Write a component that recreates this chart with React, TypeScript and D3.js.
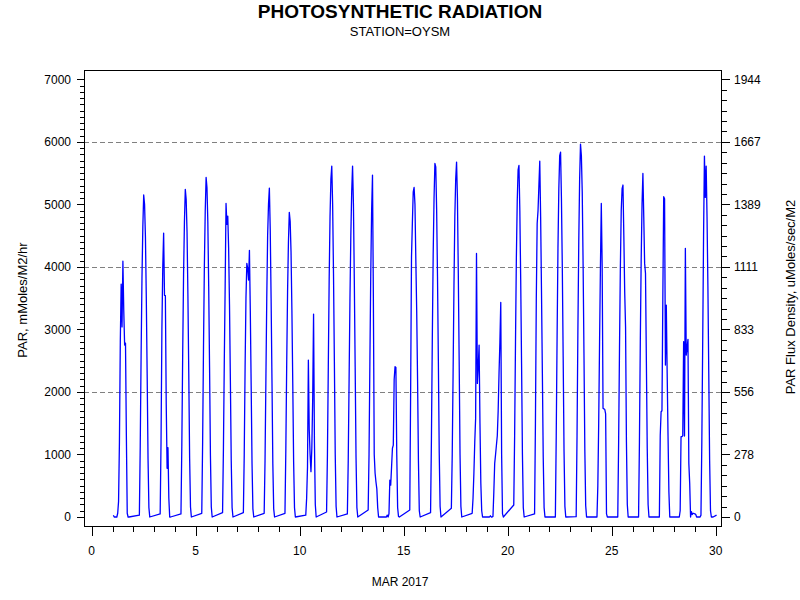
import React from 'react';
import * as d3 from 'd3';

// Hours of the daytime readings (hour of day), one value per hour in each daily array
const HOURS = [7, 8, 9, 10, 11, 12, 13, 14, 15, 16, 17, 18, 19];

// PAR, mMoles/M2/hr — March 2017, hourly daytime readings
const mar01 = [250, 1200, 2800, 3725, 3040, 4090, 3300, 2750, 2780, 1300, 60, 0, 0];
const mar02 = [30, 1130, 2580, 3810, 4640, 5150, 5000, 4480, 3500, 2270, 930, 150, 0];
const mar03 = [48, 1200, 3000, 4000, 4541, 3545, 3540, 1800, 778, 1109, 300, 0, 0];
const mar04 = [48, 1150, 2620, 3880, 4720, 5240, 5080, 4560, 3560, 2300, 940, 160, 0];
const mar05 = [59, 1200, 2720, 4020, 4890, 5431, 5270, 4720, 3690, 2390, 980, 160, 0];
const mar06 = [69, 1100, 2500, 3700, 5015, 4680, 4813, 4300, 3400, 2200, 900, 150, 0];
const mar07 = [69, 1000, 2400, 3500, 4056, 3976, 3790, 4264, 3300, 2100, 850, 130, 0];
const mar08 = [59, 900, 2200, 3500, 4500, 5000, 5261, 4600, 3500, 2200, 850, 130, 0];
const mar09 = [59, 1070, 2440, 3600, 4390, 4872, 4730, 4240, 3310, 2140, 880, 150, 0];
const mar10 = [30, 300, 800, 2510, 1400, 1000, 725, 1100, 1900, 3246, 1200, 200, 0];
const mar11 = [80, 1000, 2400, 3800, 4800, 5400, 5612, 5000, 3900, 2500, 1000, 170, 0];
const mar12 = [48, 900, 2200, 3500, 4500, 5200, 5612, 5000, 3800, 2400, 950, 150, 0];
const mar13 = [112, 1000, 2500, 3900, 4900, 5469, 3500, 1000, 700, 560, 450, 150, 0];
const mar14 = [50, 590, 510, 800, 1100, 1150, 2200, 2404, 2390, 1000, 150, 10, 0];
const mar15 = [112, 2000, 4160, 4700, 5200, 5270, 5000, 4109, 3300, 2200, 900, 100, 0];
const mar16 = [70, 1250, 2830, 4180, 5090, 5655, 5600, 4920, 3850, 2490, 1020, 170, 0];
const mar17 = [139, 1000, 2300, 3700, 4800, 5400, 5676, 5100, 3900, 2500, 1000, 170, 0];
const mar18 = [59, 300, 700, 1200, 1578, 4216, 2137, 2400, 2750, 1500, 538, 100, 0];
const mar19 = [10, 400, 858, 1000, 1151, 1300, 1700, 2300, 2800, 3432, 1000, 50, 0];
const mar20 = [192, 1300, 2800, 4150, 5050, 5550, 5623, 4900, 3800, 2450, 1000, 150, 0];
const mar21 = [48, 1500, 3500, 4695, 4900, 5300, 5692, 4800, 3600, 2300, 950, 150, 0];
const mar22 = [0, 1300, 2900, 4300, 5250, 5780, 5836, 5100, 4000, 2560, 1050, 170, 0];
const mar23 = [5, 1300, 3000, 4400, 5400, 5964, 5780, 5200, 4050, 2620, 1070, 180, 0];
const mar24 = [0, 500, 1500, 2800, 4000, 5015, 4000, 1738, 1730, 1720, 1650, 50, 0];
const mar25 = [0, 1200, 2700, 4000, 4900, 5250, 5309, 4500, 3600, 3040, 1200, 200, 0];
const mar26 = [0, 1200, 2800, 4100, 5000, 5495, 4800, 4056, 3896, 2500, 1100, 200, 0];
const mar27 = [0, 1300, 1684, 1700, 3500, 5122, 5090, 2430, 3390, 2300, 1300, 400, 0];
const mar28 = [100, 1285, 1285, 1300, 2804, 1295, 4296, 2590, 2700, 2841, 858, 538, 0];
const mar29 = [30, 1200, 2800, 4500, 5772, 5111, 5612, 4800, 3700, 2300, 900, 100, 0];

const DAILY = [
  mar01, mar02, mar03, mar04, mar05, mar06, mar07, mar08, mar09, mar10,
  mar11, mar12, mar13, mar14, mar15, mar16, mar17, mar18, mar19, mar20,
  mar21, mar22, mar23, mar24, mar25, mar26, mar27, mar28, mar29,
];

// Night-time readings that exist: [day, hour, value]
const NIGHT: [number, number, number][] = [
  [1, 1, 27], [1, 2, 0], [1, 5, 0], [1, 6, 60],
  [13, 20, 0], [14, 4, 0], [14, 5, 30], [14, 6, 0],
  [18, 20, 0], [19, 3, 0], [19, 4, 20], [19, 5, 0], [19, 6, 0],
  [28, 6, 0],
  [28, 20, 85], [28, 21, 40], [28, 22, 60], [29, 0, 50], [29, 1, 40], [29, 2, 0], [29, 5, 0], [29, 6, 0],
  [29, 21, 0], [30, 1, 30],
];

const X_MAJOR = [0, 5, 10, 15, 20, 25, 30];
const Y_MAJOR = [0, 1000, 2000, 3000, 4000, 5000, 6000, 7000];
const GRID = [2000, 4000, 6000];
const RIGHT_LABELS = ['0', '278', '556', '833', '1111', '1389', '1667', '1944'];

const FONT = '"Liberation Sans", Arial, Helvetica, sans-serif';

export default function App() {
  const L = 84, R = 721, T = 70, B = 526;
  const x = d3.scaleLinear().domain([0, 30]).range([91.7, 715.7]);
  const y = d3.scaleLinear().domain([0, 7000]).range([517, 79.3]);
  const yR = d3.scaleLinear().domain([0, 7000 / 3.6]).range([517, 79.3]);

  const pts: { t: number; v: number }[] = [];
  DAILY.forEach((vals, i) => vals.forEach((v, j) => pts.push({ t: i + 1 + HOURS[j] / 24, v })));
  NIGHT.forEach(([d, h, v]) => pts.push({ t: d + h / 24, v }));
  pts.sort((a, b) => a.t - b.t);
  const path = d3.line<{ t: number; v: number }>().x(d => x(d.t)).y(d => y(d.v))(pts) || '';

  const yMinor = d3.range(0, 7001, 100).filter(v => v % 1000 !== 0);
  const rStep = 1000 / 3.6 / 6;
  const rMinor = d3.range(0, 43).filter(k => k % 6 !== 0).map(k => k * rStep);
  const xMinor = d3.range(0, 31).filter(d => d % 5 !== 0);

  return (
    <svg width={800} height={600} style={{ position: 'absolute', left: 0, top: 0, background: '#fff' }} fontFamily={FONT}>
      <rect x={0} y={0} width={800} height={600} fill="#fff" />
      <text x={400} y={18} textAnchor="middle" fontSize={19} fontWeight="bold">PHOTOSYNTHETIC RADIATION</text>
      <text x={400} y={36} textAnchor="middle" fontSize={13}>STATION=OYSM</text>

      {GRID.map(g => (
        <line key={g} x1={L} x2={R} y1={Math.round(y(g)) + 0.5} y2={Math.round(y(g)) + 0.5}
          stroke="#808080" strokeDasharray="5,3" />
      ))}

      <path d={path} fill="none" stroke="#0000ff" strokeWidth={1.3} strokeLinejoin="round" />

      <g shapeRendering="crispEdges" stroke="#000">
        <rect x={L + 0.5} y={T + 0.5} width={R - L} height={B - T} fill="none" />
        {Y_MAJOR.map(v => (
          <line key={'ly' + v} x1={L - 7} x2={L} y1={Math.round(y(v)) + 0.5} y2={Math.round(y(v)) + 0.5} />
        ))}
        {yMinor.map(v => (
          <line key={'lm' + v} x1={L - 4} x2={L} y1={Math.round(y(v)) + 0.5} y2={Math.round(y(v)) + 0.5} />
        ))}
        {RIGHT_LABELS.map((_, i) => (
          <line key={'ry' + i} x1={R + 1} x2={R + 9} y1={Math.round(yR((i * 1000) / 3.6)) + 0.5} y2={Math.round(yR((i * 1000) / 3.6)) + 0.5} />
        ))}
        {rMinor.map((v, i) => (
          <line key={'rm' + i} x1={R + 1} x2={R + 6} y1={Math.round(yR(v)) + 0.5} y2={Math.round(yR(v)) + 0.5} />
        ))}
        {X_MAJOR.map(d => (
          <line key={'xM' + d} x1={Math.round(x(d)) + 0.5} x2={Math.round(x(d)) + 0.5} y1={B + 1} y2={B + 10} />
        ))}
        {xMinor.map(d => (
          <line key={'xm' + d} x1={Math.round(x(d)) + 0.5} x2={Math.round(x(d)) + 0.5} y1={B + 1} y2={B + 6} />
        ))}
      </g>

      <g fontSize={12} fill="#000">
        {Y_MAJOR.map(v => (
          <text key={'lt' + v} x={L - 13} y={y(v)} dy="0.35em" textAnchor="end">{v}</text>
        ))}
        {RIGHT_LABELS.map((lab, i) => (
          <text key={'rt' + i} x={R + 13} y={yR((i * 1000) / 3.6)} dy="0.35em" textAnchor="start">{lab}</text>
        ))}
        {X_MAJOR.map(d => (
          <text key={'xt' + d} x={x(d)} y={555} textAnchor="middle">{d}</text>
        ))}
        <text x={400} y={586} textAnchor="middle">MAR 2017</text>
        <text transform="translate(27,300) rotate(-90)" textAnchor="middle" fontSize={13}>PAR, mMoles/M2/hr</text>
        <text transform="translate(795,297) rotate(-90)" textAnchor="middle" fontSize={13}>PAR Flux Density, uMoles/sec/M2</text>
      </g>
    </svg>
  );
}
